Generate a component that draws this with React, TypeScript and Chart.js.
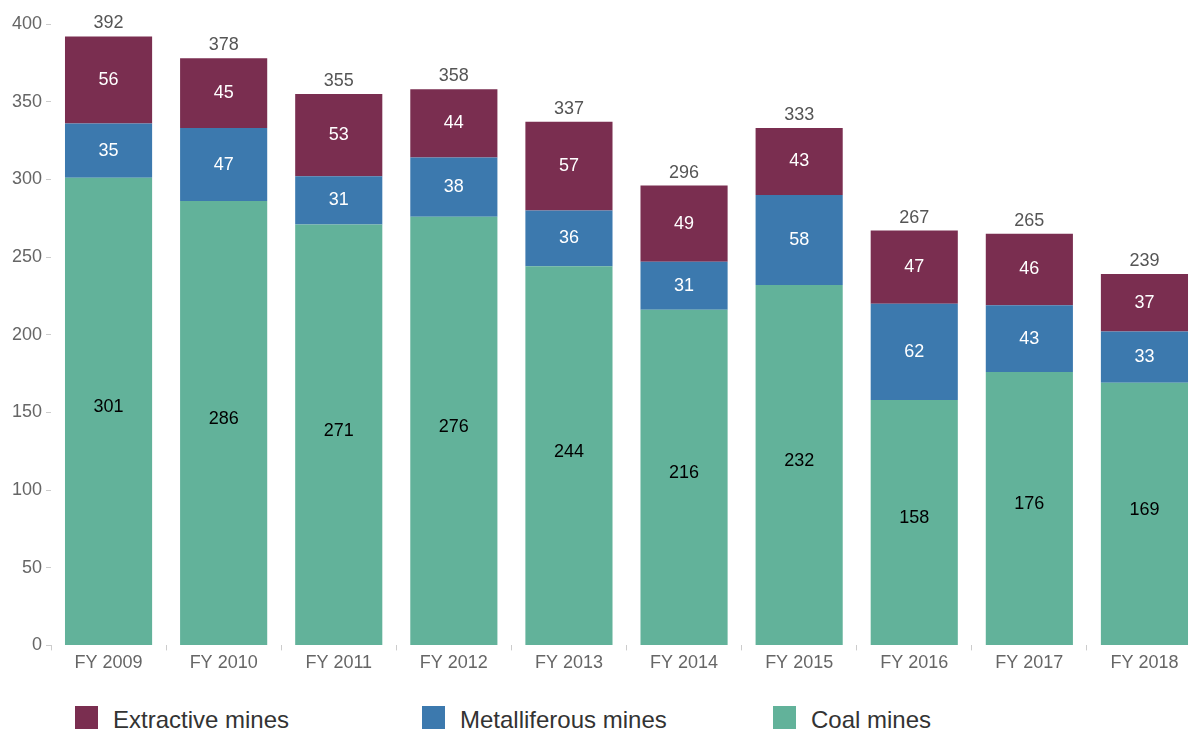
import React, { useEffect, useRef } from "react";
import { Chart, registerables } from "chart.js";

Chart.register(...registerables);

const categories = ["FY 2009", "FY 2010", "FY 2011", "FY 2012", "FY 2013", "FY 2014", "FY 2015", "FY 2016", "FY 2017", "FY 2018"];
const coalMines = [301, 286, 271, 276, 244, 216, 232, 158, 176, 169];
const metalliferousMines = [35, 47, 31, 38, 36, 31, 58, 62, 43, 33];
const extractiveMines = [56, 45, 53, 44, 57, 49, 43, 47, 46, 37];
const yTicks = [0, 50, 100, 150, 200, 250, 300, 350, 400];

const COLORS = {
  extractive: "#7a2e50",
  metal: "#3c79ae",
  coal: "#62b29a",
};

const FONT = "'Liberation Sans', Arial, sans-serif";

const labelPlugin = {
  id: "barLabels",
  afterDatasetsDraw(chart: any) {
    const ctx = chart.ctx;
    ctx.save();
    ctx.font = `18px ${FONT}`;
    ctx.textAlign = "center";
    ctx.textBaseline = "middle";
    const n = chart.data.datasets.length;
    chart.data.datasets.forEach((ds: any, di: number) => {
      const meta = chart.getDatasetMeta(di);
      meta.data.forEach((bar: any, i: number) => {
        const v = ds.data[i];
        ctx.fillStyle = di === 0 ? "#000000" : "#ffffff";
        const dy = di === 0 ? -4 : 0;
        ctx.fillText(String(v), bar.x, (bar.y + bar.base) / 2 + dy);
      });
    });
    const topMeta = chart.getDatasetMeta(n - 1);
    ctx.fillStyle = "#555555";
    ctx.textBaseline = "alphabetic";
    topMeta.data.forEach((bar: any, i: number) => {
      const total = chart.data.datasets.reduce((s: number, ds: any) => s + ds.data[i], 0);
      ctx.fillText(String(total), bar.x, bar.y - 8);
    });
    ctx.restore();
  },
};

export default function App() {
  const ref = useRef<HTMLCanvasElement>(null);
  useEffect(() => {
    document.body.style.margin = "0";
    const chart = new Chart(ref.current!, {
      type: "bar",
      data: {
        labels: categories,
        datasets: [
          { label: "Coal mines", data: coalMines, backgroundColor: COLORS.coal },
          { label: "Metalliferous mines", data: metalliferousMines, backgroundColor: COLORS.metal },
          { label: "Extractive mines", data: extractiveMines, backgroundColor: COLORS.extractive },
        ],
      },
      options: {
        animation: false,
        responsive: false,
        maintainAspectRatio: false,
        layout: { padding: { top: 24, right: 0, bottom: 14, left: 0 } },
        datasets: { bar: { categoryPercentage: 1, barPercentage: 0.757 } },
        plugins: { legend: { display: false }, tooltip: { enabled: false } },
        scales: {
          x: {
            stacked: true,
            border: { display: false },
            grid: { display: true, drawOnChartArea: false, tickLength: 5, color: "#cccccc", offset: true },
            ticks: { color: "#666666", font: { size: 18, family: FONT }, padding: 2 },
          },
          y: {
            stacked: true,
            min: 0,
            max: 400,
            afterFit(scale: any) {
              scale.width = 51;
            },
            afterBuildTicks(scale: any) {
              scale.ticks = yTicks.map((v) => ({ value: v }));
            },
            border: { display: false },
            grid: { display: true, drawOnChartArea: false, tickLength: 5, color: "#cccccc" },
            ticks: { color: "#666666", font: { size: 18, family: FONT }, padding: 4 },
          },
        },
      },
      plugins: [labelPlugin],
    });
    return () => chart.destroy();
  }, []);

  const legendItems = [
    { label: "Extractive mines", color: COLORS.extractive, left: 75 },
    { label: "Metalliferous mines", color: COLORS.metal, left: 422 },
    { label: "Coal mines", color: COLORS.coal, left: 773 },
  ];

  return (
    <div style={{ position: "relative", width: 1200, height: 733, fontFamily: FONT, overflow: "hidden" }}>
      <canvas ref={ref} width={1202} height={690} style={{ display: "block", width: 1202, height: 690 }} />
      {legendItems.map((it) => (
        <div
          key={it.label}
          style={{ position: "absolute", left: it.left, top: 706, height: 24 }}
        >
          <span style={{ position: "absolute", left: 0, top: 0, width: 23, height: 23, background: it.color }} />
          <span
            style={{
              position: "absolute",
              left: 38,
              top: 0,
              fontSize: 24,
              color: "#333333",
              lineHeight: "28px",
              whiteSpace: "nowrap",
            }}
          >
            {it.label}
          </span>
        </div>
      ))}
    </div>
  );
}
